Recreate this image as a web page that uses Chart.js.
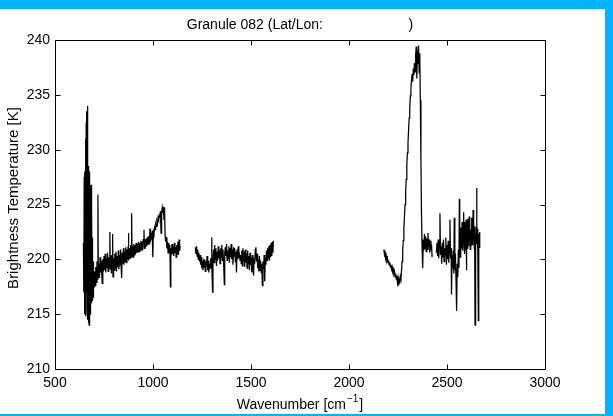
<!DOCTYPE html>
<html><head><meta charset="utf-8">
<script src="https://cdn.jsdelivr.net/npm/chart.js@4"></script>
<style>
html,body{margin:0;padding:0;width:613px;height:416px;overflow:hidden;background:#00b4ff;}
#panel{position:absolute;left:0;top:9px;width:605px;height:405px;background:#fff;}
#wrap{position:absolute;left:0;top:0;width:613px;height:416px;}
</style></head><body>
<div id="panel"></div>
<div id="wrap"><canvas id="c" width="613" height="416"></canvas></div>
<script>
// ---- data (wavenumber [cm-1], brightness temperature [K]) ----
const seg1Wn = [645,647,649,650,651,652,653,654,655,656,657,658,659,660,661,662,663,664,665,666,667,668,669,670,671,672,673,674,675,676,677,678,679,680,681,682,683,684,685,686,687,688,689,690,691,692,693,694,695,696,697,698,699,700,
702,705,708,711,714,717,719,721,724,727,730,733,736,739,741,744,747,750,753,756,759,762,765,768,771,774,777,780,782,785,788,791,794,796,799,802,805,808,811,814,817,820,823,826,829,832,835,838,840,843,846,849,852,855,858,861,864,867,870,873,874,877,880,883,886,889,891,893,896,899,902,905,908,911,914,917,920,923,926,929,932,935,938,941,944,947,950,954,956,959,962,965,968,971,974,977,980,983,985,987,990,993,996,999,1002,1005,1008,1011,1014,1017,1020,1023,1026,1029,1032,1035,1038,1041,1044,1047,1050,1053,1056,1059,1062,1065,1068,1071,1074,1077,1080,1083,1086,1089,1091,1094,1097,1100,1103,1106,1109,1112,1115,1118,1121,1124,1127,1130,1133,1136,1139];
const seg1Bt = [221.5,217.0,227.5,216.0,228.0,215.0,226.5,217.5,229.5,214.8,231.0,216.5,232.5,218.0,230.0,217.0,233.5,215.5,234.0,221.0,214.5,229.0,216.0,228.5,214.2,227.5,216.5,214.0,228.0,215.0,226.0,217.5,215.0,226.5,216.5,224.5,215.5,226.8,217.0,223.0,216.0,225.0,217.5,222.0,216.2,221.0,218.0,219.5,216.5,219.8,217.8,219.0,217.5,218.2,
218.9,217.6,219.3,217.9,219.8,218.2,225.9,218.4,219.6,218.3,220.2,218.8,219.9,218.5,217.8,220.0,218.9,220.3,219.0,220.5,218.8,220.1,219.2,220.6,218.9,220.2,219.3,222.5,219.1,220.4,218.7,220.3,222.3,218.4,220.1,219.0,220.5,219.2,220.7,218.9,220.3,219.3,220.8,219.1,220.4,219.5,220.9,219.2,218.3,220.6,219.6,221.0,219.5,220.7,219.8,221.1,219.7,220.9,220.0,221.2,222.4,219.9,221.0,220.1,221.3,220.2,224.2,220.3,221.2,220.2,221.4,220.4,221.3,220.5,221.5,220.6,221.4,220.6,221.6,220.7,221.5,220.8,221.7,220.9,221.6,220.8,221.8,222.7,221.0,221.8,221.1,221.9,221.2,222.0,221.3,222.1,221.4,222.3,222.8,221.6,222.4,221.8,222.6,220.2,222.5,222.3,222.9,222.7,223.2,223.0,223.5,223.3,223.8,223.6,224.0,223.9,224.4,222.4,224.3,224.7,224.2,224.8,223.6,224.7,222.1,221.6,222.0,221.0,221.6,220.6,221.5,220.7,221.3,217.5,221.0,220.4,221.4,220.5,221.2,220.3,221.5,220.6,221.1,220.2,221.3,220.5,221.6,220.4,221.8,220.8,221.2];

const seg2Wn = [1216,1219,1222,1225,1228,1231,1234,1237,1240,1243,1246,1249,1252,1255,1258,1261,1264,1267,1270,1273,1276,1279,1282,1285,1288,1291,1294,1297,1299,1301,1304,1306,1309,1312,1315,1318,1321,1324,1327,1330,1333,1336,1339,1342,1345,1348,1351,1354,1357,1360,1364,1366,1369,1372,1375,1378,1381,1384,1387,1390,1393,1396,1399,1402,1405,1408,1411,1414,1417,1420,1423,1426,1429,1432,1435,1438,1441,1444,1447,1450,1453,1456,1459,1462,1465,1468,1471,1474,1477,1480,1483,1486,1489,1492,1495,1498,1501,1504,1507,1510,1513,1516,1519,1522,1525,1528,1531,1534,1537,1540,1543,1546,1549,1552,1555,1558,1561,1564,1567,1570,1573,1576,1579,1582,1585,1588,1591,1594,1597,1600,1603,1606,1609,1612,1614];
const seg2Bt = [221.1,220.5,221.2,220.3,220.9,220.0,220.6,219.8,220.4,219.5,220.2,219.2,219.9,219.0,219.7,219.3,220.0,218.9,219.8,219.4,220.3,219.0,219.9,218.8,219.6,219.2,220.1,219.4,222.0,219.5,217.0,219.8,220.9,219.7,221.3,220.0,221.0,219.4,220.7,219.9,221.2,220.1,220.8,219.6,221.0,220.2,221.3,219.9,220.9,219.8,217.7,220.6,221.1,220.3,221.4,219.9,220.8,220.1,221.2,219.7,221.0,220.2,221.4,220.0,220.9,219.5,221.1,220.3,221.0,219.8,220.7,218.8,220.9,220.0,221.2,220.1,220.6,219.9,220.4,219.6,220.8,219.4,221.0,219.8,220.7,219.3,220.9,219.7,220.5,219.2,220.8,219.6,220.3,219.0,220.6,219.5,220.2,218.8,220.4,219.3,218.5,220.1,219.6,220.9,221.1,219.8,220.5,219.2,220.0,218.9,220.3,219.0,219.9,218.8,219.6,217.6,219.8,219.1,220.4,218.0,220.1,219.5,220.8,219.9,221.0,220.1,221.2,219.9,221.3,220.2,221.5,220.3,221.6,220.6,221.7];

const seg3Wn = [2178,2181,2184,2187,2190,2193,2196,2199,2202,2205,2208,2211,2214,2217,2220,2223,2226,2229,2232,2235,2238,2241,2244,2247,2250,2253,2256,2259,2262,2265,2268,2271,2274,2277,2280,2283,2286,2289,2292,2295,2298,2301,2304,2307,2310,2313,2316,2319,2322,2325,2328,2331,2334,2337,2340,2343,2346,2349,2352,2355,2358,2361,2364,2367,2370,2373,2376,2379,2382,2385,2388,2391,2394,2397,2400,2403,2406,2409,2412,2415,2418,2421,2424];
const seg3Bt = [220.9,220.4,220.6,220.1,220.3,219.9,220.1,219.7,219.9,219.5,219.7,219.3,219.5,219.1,219.3,218.9,219.1,218.7,218.9,218.4,218.7,218.2,218.5,217.9,218.3,217.6,218.1,217.8,218.4,218.2,219.0,219.8,220.9,221.7,222.8,223.9,225.0,226.2,227.3,228.6,229.7,230.6,231.8,232.9,233.8,234.9,235.6,236.4,236.9,236.2,237.4,236.8,237.9,237.1,238.6,239.4,236.5,239.0,237.8,239.5,237.0,238.8,234.5,229.0,224.0,221.0,219.2,221.8,220.8,222.3,221.0,222.1,220.7,221.9,220.9,222.4,221.1,221.8,220.6,221.7,220.8,221.4,220.2];

const seg4Wn = [2446,2449,2452,2455,2458,2461,2464,2467,2470,2473,2476,2479,2482,2485,2488,2491,2494,2497,2500,2503,2506,2509,2512,2515,2518,2521,2523,2526,2529,2532,2535,2537,2540,2543,2546,2549,2552,2555,2558,2561,2563,2565,2567,2569,2571,2573,2575,2577,2579,2581,2583,2585,2587,2589,2591,2593,2595,2597,2599,2601,2603,2605,2607,2609,2611,2613,2615,2617,2619,2621,2623,2625,2627,2629,2631,2633,2635,2637,2639,2641,2643,2645,2647,2649,2651,2653,2655,2657,2660,2662,2664,2666,2668];
const seg4Bt = [220.6,221.5,220.3,221.8,220.1,221.6,224.2,220.4,221.2,219.6,221.5,220.2,221.8,219.8,221.0,220.4,222.0,219.5,221.3,220.0,221.7,219.7,221.2,223.6,220.1,221.0,216.8,220.4,219.2,220.8,218.7,223.8,219.0,220.5,218.1,215.3,219.6,218.4,220.9,219.2,225.5,221.0,220.2,222.9,220.6,222.6,221.0,223.4,220.8,223.1,221.5,224.3,221.2,223.4,220.5,222.9,220.8,223.6,219.0,222.5,221.0,223.7,221.4,223.6,221.2,223.9,221.7,223.2,220.9,222.7,221.3,223.8,221.6,223.5,221.3,224.5,221.9,223.4,221.0,223.0,214.0,222.1,220.9,223.0,226.5,221.4,222.8,221.0,214.4,222.3,221.1,221.6,222.5];

const xTickValues = [500,1000,1500,2000,2500,3000];
const yTickValues = [210,215,220,225,230,235,240];
const titleText = 'Granule 082 (Lat/Lon:                      )';
const xTitleMain = 'Wavenumber [cm';
const xTitleSup = '\u22121';
const xTitleEnd = ']';
const yTitleText = 'Brightness Temperature [K]';

// ---- chart ----
const FONT = '"Liberation Sans", Arial, Helvetica, sans-serif';
Chart.defaults.font.family = FONT;
Chart.defaults.color = '#000';

function toPoints(wn, bt){ return wn.map((w,i)=>({x:w, y:bt[i]})); }
function ds(wn, bt){
  return {data: toPoints(wn, bt), borderColor:'#000', borderWidth:1.25, pointRadius:0, tension:0, fill:false};
}

const framePlugin = {
  id:'frame',
  afterDraw(chart){
    const {ctx, chartArea:a, scales:{x, y}} = chart;
    ctx.save();
    ctx.strokeStyle = '#000';
    ctx.lineWidth = 1;
    const L = Math.round(a.left)+0.5, R = Math.round(a.right)+0.5, T = Math.round(a.top)+0.5, B = Math.round(a.bottom)+0.5;
    ctx.beginPath();
    ctx.rect(L, T, R-L, B-T);
    const tl = 5;
    xTickValues.forEach(v=>{
      const p = Math.round(x.getPixelForValue(v))+0.5;
      ctx.moveTo(p, B); ctx.lineTo(p, B-tl);
      ctx.moveTo(p, T); ctx.lineTo(p, T+tl);
    });
    yTickValues.forEach(v=>{
      const p = Math.round(y.getPixelForValue(v))+0.5;
      ctx.moveTo(L, p); ctx.lineTo(L+tl, p);
      ctx.moveTo(R, p); ctx.lineTo(R-tl, p);
    });
    ctx.stroke();

    // axis titles
    ctx.fillStyle = '#000';
    const cx = (a.left + a.right)/2;
    ctx.font = '14px ' + FONT;
    const wMain = ctx.measureText(xTitleMain).width;
    ctx.font = '10px ' + FONT;
    const wSup = ctx.measureText(xTitleSup).width;
    ctx.font = '14px ' + FONT;
    const wEnd = ctx.measureText(xTitleEnd).width;
    const total = wMain + wSup + 2 + wEnd;
    let sx = cx - total/2;
    const by = 409;
    ctx.textAlign = 'left'; ctx.textBaseline = 'alphabetic';
    ctx.fillText(xTitleMain, sx, by);
    ctx.font = '10px ' + FONT;
    ctx.fillText(xTitleSup, sx + wMain + 1, by - 7);
    ctx.font = '14px ' + FONT;
    ctx.fillText(xTitleEnd, sx + wMain + wSup + 2, by);

    ctx.translate(14, 198);
    ctx.rotate(-Math.PI/2);
    ctx.textAlign = 'center'; ctx.textBaseline = 'middle';
    ctx.font = '15px ' + FONT;
    ctx.fillText(yTitleText, 0, 0);
    ctx.restore();
  }
};

new Chart(document.getElementById('c'), {
  type:'line',
  data:{ datasets:[ds(seg1Wn,seg1Bt), ds(seg2Wn,seg2Bt), ds(seg3Wn,seg3Bt), ds(seg4Wn,seg4Bt)] },
  options:{
    responsive:false, animation:false, devicePixelRatio:1,
    layout:{padding:{left:0, right:68, top:0, bottom:0}},
    plugins:{
      legend:{display:false}, tooltip:{enabled:false},
      title:{display:true, text:titleText, fullSize:false, color:'#000',
        font:{size:14, weight:'normal', family:FONT}, padding:{top:16.6, bottom:6.6}}
    },
    scales:{
      x:{type:'linear', min:500, max:3000,
        afterFit(s){ s.height = 47; },
        afterBuildTicks(s){ s.ticks = xTickValues.map(v=>({value:v})); },
        grid:{display:false, drawTicks:false}, border:{display:false},
        ticks:{padding:5.5, font:{size:14}, color:'#000', maxRotation:0, callback:(v)=>String(v)}},
      y:{type:'linear', min:210, max:240,
        afterFit(s){ s.width = 55; },
        afterBuildTicks(s){ s.ticks = yTickValues.map(v=>({value:v})); },
        grid:{display:false, drawTicks:false}, border:{display:false},
        ticks:{padding:5, font:{size:14}, color:'#000', callback:(v)=>String(v)}}
    }
  },
  plugins:[framePlugin]
});
</script>
</body></html>
